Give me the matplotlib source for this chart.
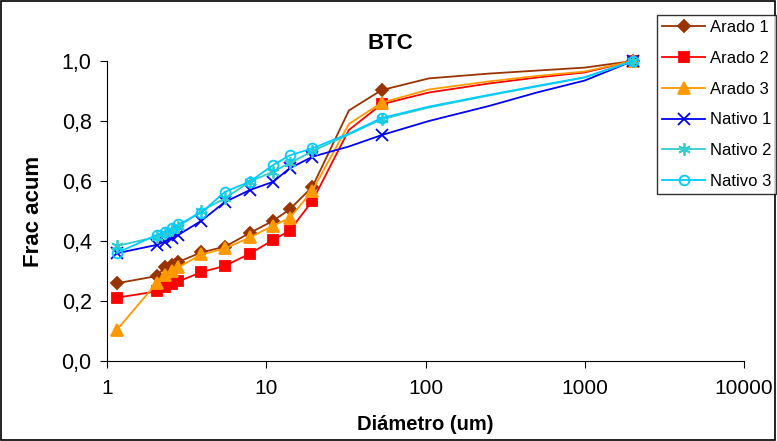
import matplotlib
matplotlib.use("Agg")
import matplotlib.pyplot as plt
from matplotlib.patches import Rectangle

plt.rcParams['font.family'] = ['Liberation Sans', 'DejaVu Sans']

# diameters (um); the middle/upper ones carry no marker in the original
diam = [1.15, 2.05, 2.3, 2.55, 2.8, 3.9, 5.5, 7.9, 11, 14, 19.5, 33, 53, 105, 250, 500, 1000, 2000]
marked = [0, 1, 2, 3, 4, 5, 6, 7, 8, 9, 10, 12, 17]

arado1 = [0.259, 0.283, 0.312, 0.320, 0.330, 0.362, 0.381, 0.427, 0.467, 0.505, 0.581, 0.835, 0.903, 0.942, 0.958, 0.968, 0.978, 1.0]
arado2 = [0.211, 0.232, 0.245, 0.255, 0.265, 0.296, 0.317, 0.358, 0.403, 0.434, 0.534, 0.770, 0.856, 0.895, 0.925, 0.945, 0.962, 1.0]
arado3 = [0.103, 0.260, 0.285, 0.300, 0.312, 0.355, 0.375, 0.412, 0.451, 0.476, 0.568, 0.790, 0.861, 0.905, 0.932, 0.950, 0.965, 1.0]
nativo1 = [0.359, 0.387, 0.398, 0.409, 0.420, 0.467, 0.530, 0.570, 0.597, 0.642, 0.681, 0.715, 0.753, 0.800, 0.850, 0.895, 0.935, 1.0]
nativo2 = [0.383, 0.414, 0.426, 0.437, 0.448, 0.500, 0.542, 0.598, 0.631, 0.659, 0.700, 0.755, 0.806, 0.845, 0.885, 0.915, 0.945, 1.0]
nativo3 = [0.360, 0.420, 0.430, 0.442, 0.455, 0.494, 0.564, 0.598, 0.653, 0.685, 0.709, 0.758, 0.810, 0.848, 0.887, 0.917, 0.946, 1.0]

labels = ["Arado 1", "Arado 2", "Arado 3", "Nativo 1", "Nativo 2", "Nativo 3"]
series = [arado1, arado2, arado3, nativo1, nativo2, nativo3]
colors = ['#993300', '#FF0000', '#FF9900', '#0000FF', '#33CCCC', '#00CCFF']
markers = ['D', 's', '^', 'x', (6, 2, 0), 'o']
msizes = [6.5, 7, 8, 8, 9, 7]

fig = plt.figure(figsize=(7.77, 4.41), dpi=100)
ax = fig.add_axes([0.1377, 0.1814, 0.82, 0.6803])

for vals, lab, c, m, ms in zip(series, labels, colors, markers, msizes):
    face = 'none' if m == 'o' else c
    ax.plot(diam, vals, color=c, lw=1.3, marker=m, ms=ms, markevery=marked,
            mfc=face, mec=c, mew=1.3, label=lab, clip_on=False)

ax.set_xscale('log')
ax.set_xlim(1, 10000)
ax.set_ylim(0, 1.0)
ax.set_xticks([1, 10, 100, 1000, 10000])
ax.set_xticklabels(["1", "10", "100", "1000", "10000"])
ax.minorticks_off()
ax.set_yticks([0, 0.2, 0.4, 0.6, 0.8, 1.0])
ax.set_yticklabels(["0,0", "0,2", "0,4", "0,6", "0,8", "1,0"])
ax.tick_params(axis='y', labelsize=15.5, length=5, width=0.8, pad=6)
ax.tick_params(axis='x', labelsize=15, length=5, width=0.8, pad=8)
for s in ['top', 'right']:
    ax.spines[s].set_visible(False)
for s in ['left', 'bottom']:
    ax.spines[s].set_linewidth(0.8)

ax.set_xlabel("Diámetro (um)", fontsize=14.5, fontweight='bold', labelpad=12)
ax.set_ylabel("Frac acum", fontsize=16, fontweight='bold', labelpad=13)
fig.text(0.502, 0.902, "BTC", fontsize=16, fontweight='bold', ha='center', va='center')

leg = fig.legend(loc='upper left', bbox_to_anchor=(0.8456, 0.966), fontsize=12,
                 frameon=True, fancybox=False, edgecolor='black', handlelength=2.6,
                 handletextpad=0.25, labelspacing=0.95, borderpad=0.3, borderaxespad=0)
leg.get_frame().set_linewidth(1.0)

fig.patches.append(Rectangle((0.001, 0.002), 0.997, 0.995, transform=fig.transFigure,
                             fill=False, edgecolor='black', lw=1.2))

fig.savefig("out.png", dpi=100)
